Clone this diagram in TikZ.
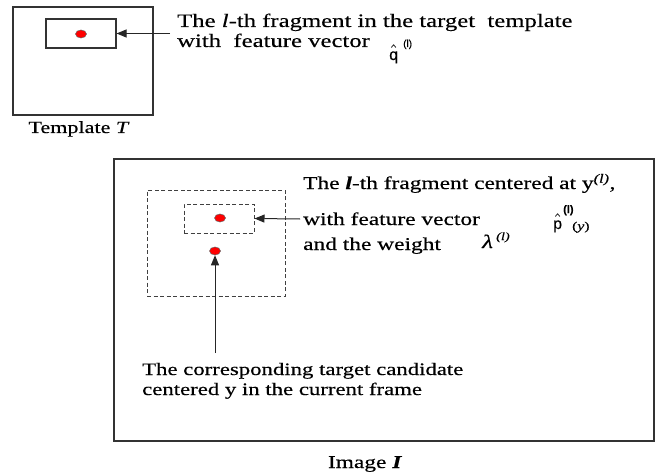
\documentclass[tikz,border=0pt]{standalone}
\usepackage{fontspec}
\setmainfont{Liberation Serif}[FakeStretch=1.3,FakeBold=0.4]
\newfontfamily\sansf{Liberation Sans}[FakeBold=0.4]
\usetikzlibrary{arrows.meta,shapes.geometric}
\begin{document}
\begin{tikzpicture}[x=1pt,y=-1pt,
  box/.style={draw=black!80,line width=1.1pt,inner sep=0,rectangle},
  dbox/.style={draw=black!75,line width=1pt,dash pattern=on 4pt off 2.5pt,inner sep=0,rectangle},
  dot/.style={ellipse,draw=black!60,line width=0.5pt,fill=red,minimum width=11pt,minimum height=8pt,inner sep=0},
  lbl/.style={inner sep=0,anchor=base west,font=\fontsize{18}{20}\selectfont},
  clbl/.style={inner sep=0,anchor=base,font=\fontsize{18}{20}\selectfont},
  sml/.style={inner sep=0,anchor=base west},
  hatmark/.style={line width=0.8pt,draw=black!85,line join=miter},
  arr/.style={-{Triangle[length=10pt,width=8pt]},line width=1pt,draw=black!85}]
\useasboundingbox (0,0) rectangle (660,473);
% template
\node[box,minimum width=140pt,minimum height=108pt] (T) at (83,61) {};
\node[box,minimum width=70pt,minimum height=29pt] (frag) at (81,33.5) {};
\node[dot] (c0) at (81,34) {};
\node[clbl,font=\fontsize{17}{20}\selectfont] (tlabel) at (79,133) {Template \textit{T}};
\node[lbl,font=\fontsize{19}{20}\selectfont] (t1) at (177,27) {The \textit{l}-th fragment in the target\ \ template};
\node[lbl,font=\fontsize{19}{20}\selectfont] (t2) at (177,47) {with\ \ feature vector};
\node[sml,font=\sansf\fontsize{16}{16}\selectfont] (q) at (389,60) {q};
\draw[hatmark] (391.3,47.5) -- (393.6,44.8) -- (395.9,47.5);
\node[sml,font=\sansf\fontsize{10}{10}\selectfont] (ql) at (403,47) {(l)};
\coordinate (a1) at (170,33.5);
\draw[arr] (a1) -- (frag.east);
% image
\node[box,minimum width=540pt,minimum height=282pt] (I) at (384,300) {};
\node[dbox,minimum width=138pt,minimum height=106pt] (cand) at (216,243) {};
\node[dbox,minimum width=70pt,minimum height=29pt] (ifrag) at (219,218.5) {};
\node[dot] (c1) at (220,218) {};
\node[dot] (c2) at (215,251) {};
\node[lbl] (m1) at (303,189) {The \textbf{\textit{l}}-th fragment centered at y\textsuperscript{\textit{(l)}},};
\node[lbl] (m2) at (303,225) {with feature vector};
\node[lbl] (m3) at (303,250) {and the weight};
\node[sml,font=\fontsize{19}{19}\selectfont] (lam) at (482,248) {\textit{λ}};
\node[sml,font=\fontsize{11}{11}\selectfont] (laml) at (496,240) {\textit{(l)}};
\node[sml,font=\sansf\fontsize{16}{16}\selectfont] (p) at (553,229) {p};
\draw[hatmark] (555.3,216.5) -- (557.6,213.8) -- (559.9,216.5);
\node[sml,font=\sansf\bfseries\fontsize{11}{11}\selectfont] (pl) at (563,213) {(l)};
\node[sml,font=\fontsize{12}{12}\selectfont] (py) at (572,230) {(\textit{y})};
\coordinate (a2) at (300,219);
\draw[arr] (a2) -- (ifrag.east);
\coordinate (a3) at (215,353);
\draw[arr] (a3) -- (c2.south);
\node[lbl,font=\fontsize{17.5}{20}\selectfont] (b1) at (142,375) {The corresponding target candidate};
\node[lbl,font=\fontsize{17.5}{20}\selectfont] (b2) at (142,395) {centered y in the current frame};
\node[clbl] (ilabel) at (365,468) {Image \textbf{\textit{I}}};
\end{tikzpicture}
\end{document}
